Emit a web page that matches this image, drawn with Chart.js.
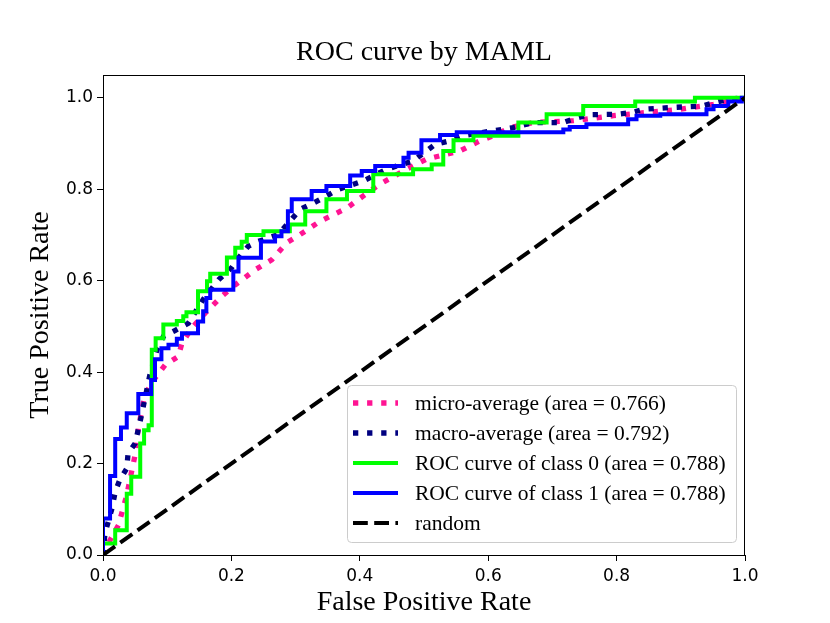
<!DOCTYPE html>
<html>
<head>
<meta charset="utf-8">
<title>ROC curve by MAML</title>
<script src="https://cdn.jsdelivr.net/npm/chart.js@4.4.0/dist/chart.umd.min.js"></script>
<style>
  html, body { margin: 0; padding: 0; background: #fff; }
</style>
</head>
<body>
<canvas id="roc" width="830" height="623"></canvas>
<script>
"use strict";

// chart text
var chartTitle = "ROC curve by MAML";
var xTitle = "False Positive Rate";
var yTitle = "True Positive Rate";
var seriesNames = [
  "micro-average (area = 0.766)",
  "macro-average (area = 0.792)",
  "ROC curve of class 0 (area = 0.788)",
  "ROC curve of class 1 (area = 0.788)",
  "random"
];

// micro-average
var microFpr = [0, 0.006, 0.024, 0.037, 0.05, 0.055, 0.065, 0.081, 0.097, 0.117, 0.123, 0.138, 0.159, 0.185, 0.206, 0.237, 0.263, 0.286, 0.307, 0.338, 0.38, 0.405, 0.431, 0.473, 0.504, 0.556, 0.587, 0.608, 0.634, 0.67, 0.733, 0.795, 0.847, 0.899, 0.951, 1];
var microTpr = [0, 0.02, 0.065, 0.131, 0.219, 0.277, 0.35, 0.387, 0.416, 0.434, 0.463, 0.496, 0.529, 0.566, 0.591, 0.624, 0.646, 0.683, 0.701, 0.73, 0.759, 0.785, 0.811, 0.844, 0.866, 0.884, 0.906, 0.917, 0.935, 0.946, 0.95, 0.961, 0.968, 0.975, 0.986, 1];

// macro-average
var macroFpr = [0, 0.003, 0.014, 0.019, 0.026, 0.037, 0.039, 0.05, 0.06, 0.073, 0.084, 0.094, 0.112, 0.133, 0.156, 0.18, 0.2, 0.211, 0.226, 0.242, 0.273, 0.307, 0.328, 0.367, 0.405, 0.442, 0.483, 0.517, 0.54, 0.559, 0.639, 0.67, 0.717, 0.735, 0.756, 0.8, 0.824, 0.842, 0.886, 0.933, 0.951, 0.974, 1];
var macroTpr = [0, 0.047, 0.102, 0.138, 0.164, 0.189, 0.222, 0.244, 0.306, 0.394, 0.449, 0.478, 0.491, 0.507, 0.559, 0.602, 0.628, 0.65, 0.675, 0.686, 0.701, 0.756, 0.77, 0.8, 0.818, 0.844, 0.862, 0.898, 0.906, 0.917, 0.935, 0.946, 0.946, 0.955, 0.963, 0.964, 0.968, 0.975, 0.979, 0.982, 0.989, 0.997, 1];

// class 0 (step curve, top of each vertical step)
var class0Fpr = [0, 0, 0.019, 0.037, 0.044, 0.058, 0.064, 0.071, 0.076, 0.082, 0.094, 0.115, 0.125, 0.13, 0.148, 0.162, 0.167, 0.193, 0.206, 0.216, 0.224, 0.25, 0.291, 0.315, 0.348, 0.38, 0.421, 0.483, 0.512, 0.53, 0.546, 0.577, 0.647, 0.691, 0.748, 0.829, 0.922, 1];
var class0Tpr = [0, 0.025, 0.054, 0.134, 0.171, 0.244, 0.273, 0.284, 0.449, 0.474, 0.504, 0.512, 0.522, 0.531, 0.577, 0.599, 0.615, 0.651, 0.672, 0.685, 0.7, 0.708, 0.723, 0.752, 0.778, 0.796, 0.833, 0.844, 0.854, 0.884, 0.907, 0.917, 0.946, 0.964, 0.982, 0.992, 1, 1];

// class 1
var class1Fpr = [0, 0, 0.011, 0.019, 0.028, 0.037, 0.055, 0.075, 0.081, 0.091, 0.102, 0.115, 0.123, 0.148, 0.156, 0.161, 0.167, 0.203, 0.211, 0.246, 0.268, 0.278, 0.288, 0.294, 0.325, 0.348, 0.385, 0.403, 0.424, 0.468, 0.476, 0.496, 0.525, 0.551, 0.717, 0.727, 0.753, 0.818, 0.831, 0.868, 0.94, 0.951, 0.974, 0.995, 1];
var class1Tpr = [0, 0.08, 0.173, 0.254, 0.279, 0.31, 0.352, 0.383, 0.428, 0.452, 0.46, 0.473, 0.485, 0.511, 0.533, 0.562, 0.58, 0.62, 0.65, 0.686, 0.697, 0.708, 0.752, 0.778, 0.796, 0.807, 0.83, 0.84, 0.851, 0.869, 0.88, 0.907, 0.919, 0.925, 0.931, 0.936, 0.942, 0.953, 0.961, 0.964, 0.975, 0.982, 0.992, 1, 1];

// chance line
var randomFpr = [0, 1];
var randomTpr = [0, 1];

var xTicks = [0, 0.2, 0.4, 0.6, 0.8, 1.0];
var yTicks = [0, 0.2, 0.4, 0.6, 0.8, 1.0];

function toPoints(xs, ys) {
  var pts = [];
  for (var i = 0; i < xs.length; i++) pts.push({ x: xs[i], y: ys[i] });
  return pts;
}

var serif = "'Liberation Serif', 'Times New Roman', serif";
var sans = "'DejaVu Sans', sans-serif";

// title above the axes box
var titlePlugin = {
  id: "plotTitle",
  afterDraw: function (chart) {
    var ctx = chart.ctx, a = chart.chartArea;
    ctx.save();
    ctx.font = "28px " + serif;
    ctx.fillStyle = "#000";
    ctx.textAlign = "center";
    ctx.textBaseline = "middle";
    ctx.fillText(chartTitle, (a.left + a.right) / 2, 53);
    ctx.restore();
  }
};

// full box round the plot, like matplotlib spines
var framePlugin = {
  id: "frame",
  afterDatasetsDraw: function (chart) {
    var ctx = chart.ctx, a = chart.chartArea;
    ctx.save();
    ctx.strokeStyle = "#000";
    ctx.lineWidth = 1;
    ctx.strokeRect(a.left + 0.5, a.top + 0.5, a.right - a.left - 1, a.bottom - a.top);
    ctx.restore();
  }
};

// legend in lower right corner
var legendPlugin = {
  id: "boxLegend",
  afterDraw: function (chart) {
    var ctx = chart.ctx, a = chart.chartArea;
    var right = a.right - 9, bottom = a.bottom - 13;
    var w = 389, h = 157;
    var left = right - w, top = bottom - h;
    ctx.save();
    ctx.beginPath();
    ctx.roundRect(left + 0.5, top + 0.5, w, h, 4);
    ctx.fillStyle = "rgba(255,255,255,0.8)";
    ctx.fill();
    ctx.strokeStyle = "#cccccc";
    ctx.lineWidth = 1;
    ctx.stroke();
    ctx.font = "21.5px " + serif;
    ctx.textBaseline = "middle";
    ctx.textAlign = "left";
    chart.data.datasets.forEach(function (ds, i) {
      var y = top + 18 + i * 30;
      ctx.beginPath();
      ctx.strokeStyle = ds.borderColor;
      ctx.lineWidth = ds.borderWidth;
      ctx.setLineDash(ds.borderDash || []);
      ctx.lineCap = "butt";
      ctx.moveTo(left + 6, y);
      ctx.lineTo(left + 51, y);
      ctx.stroke();
      ctx.setLineDash([]);
      ctx.fillStyle = "#000";
      ctx.fillText(ds.label, left + 68, y + 1);
    });
    ctx.restore();
  }
};

new Chart(document.getElementById("roc"), {
  type: "scatter",
  data: {
    datasets: [{
      label: seriesNames[0],
      data: toPoints(microFpr, microTpr),
      borderColor: "#ff1493",
      borderWidth: 5.3,
      borderDash: [5.3, 8.8],
      order: 5
    }, {
      label: seriesNames[1],
      data: toPoints(macroFpr, macroTpr),
      borderColor: "#000080",
      borderWidth: 5.3,
      borderDash: [5.3, 8.8],
      order: 4
    }, {
      label: seriesNames[2],
      data: toPoints(class0Fpr, class0Tpr),
      borderColor: "#00ff00",
      borderWidth: 4,
      stepped: "before",
      order: 3
    }, {
      label: seriesNames[3],
      data: toPoints(class1Fpr, class1Tpr),
      borderColor: "#0000ff",
      borderWidth: 4,
      stepped: "before",
      order: 2
    }, {
      label: seriesNames[4],
      data: toPoints(randomFpr, randomTpr),
      borderColor: "#000000",
      borderWidth: 4,
      borderDash: [14.8, 6.4],
      order: 1
    }].map(function (d) {
      d.showLine = true;
      d.pointRadius = 0;
      d.pointHoverRadius = 0;
      d.borderCapStyle = "butt";
      d.borderJoinStyle = "miter";
      d.fill = false;
      d.tension = 0;
      return d;
    })
  },
  options: {
    responsive: false,
    animation: false,
    events: [],
    layout: { padding: { left: 0, right: 85, top: 75, bottom: 0 } },
    plugins: {
      legend: { display: false },
      title: { display: false },
      tooltip: { enabled: false }
    },
    scales: {
      x: {
        type: "linear",
        min: 0,
        max: 1,
        afterFit: function (scale) { scale.height = 68; },
        afterBuildTicks: function (scale) {
          scale.ticks = xTicks.map(function (v) { return { value: v }; });
        },
        ticks: {
          font: { family: sans, size: 17 },
          color: "#000",
          padding: 5,
          maxRotation: 0,
          callback: function (v) { return Number(v).toFixed(1); }
        },
        grid: { drawOnChartArea: false, drawTicks: true, tickLength: 6, color: "#000", tickWidth: 1 },
        border: { display: true, color: "#000", width: 1 },
        title: {
          display: true,
          text: xTitle,
          font: { family: serif, size: 28 },
          color: "#000",
          padding: { top: 0, bottom: 4 }
        }
      },
      y: {
        type: "linear",
        min: 0,
        max: 1.05,
        afterFit: function (scale) { scale.width = 103; },
        afterBuildTicks: function (scale) {
          scale.ticks = yTicks.map(function (v) { return { value: v }; });
        },
        ticks: {
          font: { family: sans, size: 17 },
          color: "#000",
          padding: 4,
          includeBounds: false,
          callback: function (v) { return Number(v).toFixed(1); }
        },
        grid: { drawOnChartArea: false, drawTicks: true, tickLength: 6, color: "#000", tickWidth: 1 },
        border: { display: true, color: "#000", width: 1 },
        title: {
          display: true,
          text: yTitle,
          font: { family: serif, size: 28 },
          color: "#000",
          padding: { top: 24, bottom: 0 }
        }
      }
    }
  },
  plugins: [titlePlugin, framePlugin, legendPlugin]
});
</script>
</body>
</html>
